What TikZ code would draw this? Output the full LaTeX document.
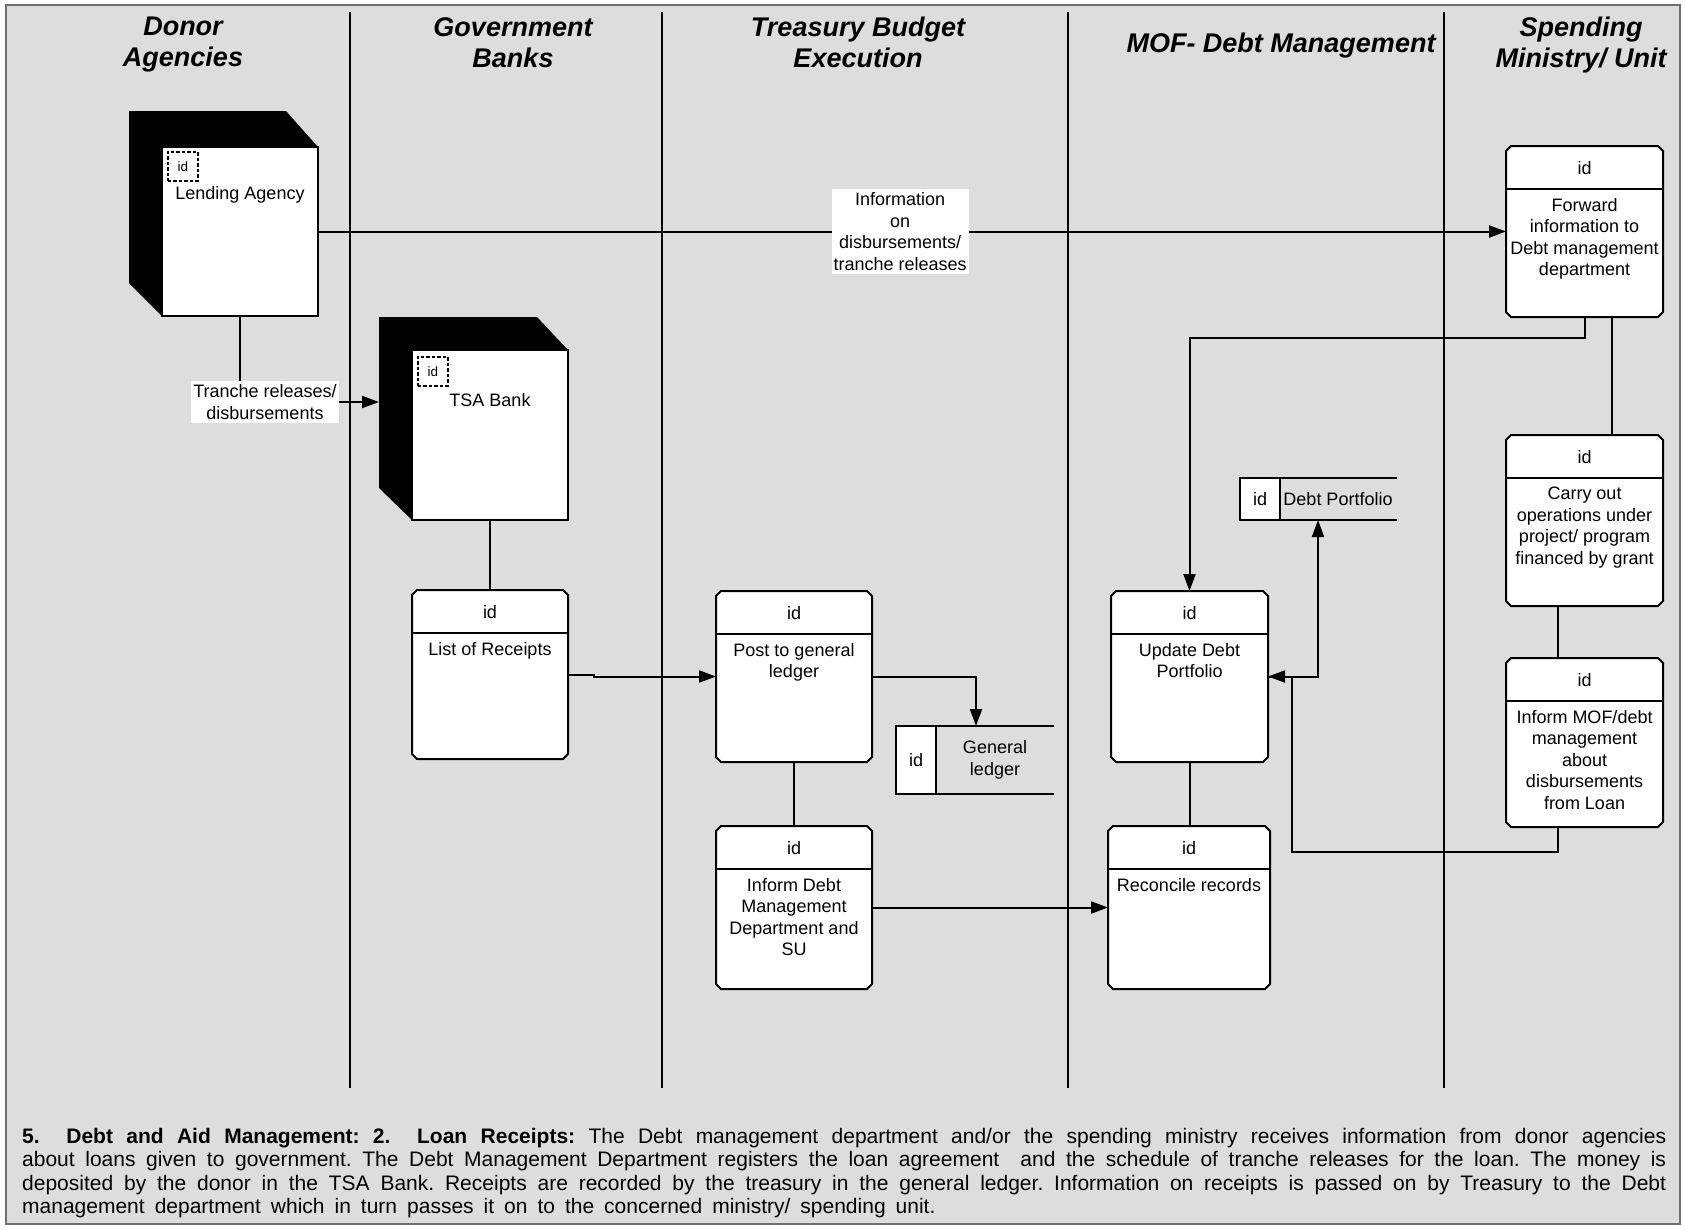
\documentclass[tikz,border=0pt]{standalone}
\usepackage{fontspec}
\setmainfont{Liberation Sans}
\usetikzlibrary{arrows.meta}
\definecolor{lanegray}{RGB}{221,221,221}
\definecolor{framegray}{RGB}{110,110,110}

% process box with chamfered corners and an id header
% #1 name, #2 left, #3 top, #4 width, #5 height, #6 text
\newcommand\procbox[6]{%
  \pgfmathsetmacro\pbR{#2+#4}%
  \pgfmathsetmacro\pbB{#3+#5}%
  \pgfmathsetmacro\pbC{#2+#4/2}%
  \pgfmathsetmacro\pbH{#3+43}%
  \node[anchorbox, minimum width=#4pt, minimum height=#5pt] (#1) at (#2,#3) {};
  \draw[boxline, fill=white] (#2+5,#3) -- (\pbR-5,#3) -- (\pbR,#3+5) -- (\pbR,\pbB-5)
     -- (\pbR-5,\pbB) -- (#2+5,\pbB) -- (#2,\pbB-5) -- (#2,#3+5) -- cycle;
  \draw[boxline] (#2,\pbH) -- (\pbR,\pbH);
  \node[txt] at (\pbC,#3+22) {id};
  \node[txt, anchor=north] at (\pbC,\pbH+9) {#6};
}

\begin{document}
\begin{tikzpicture}[x=1pt,y=-1pt,
  lane/.style={line width=2pt},
  conn/.style={line width=2pt},
  arr/.style={conn,-{Triangle[length=17pt,width=12pt]}},
  boxline/.style={line width=2pt, line join=miter},
  txt/.style={font=\fontsize{18}{21.5}\selectfont, align=center, inner sep=0pt},
  small/.style={font=\fontsize{13.5}{15}\selectfont, inner sep=0pt},
  hdr/.style={font=\fontsize{27}{31}\selectfont\bfseries\itshape, align=center, inner sep=0pt},
  flowlbl/.style={txt, fill=white, inner xsep=2pt, inner ysep=3.5pt},
  anchorbox/.style={draw=none, inner sep=0pt, outer sep=0pt, anchor=north west},
  idbox/.style={draw, line width=1.6pt, dash pattern=on 3.5pt off 2pt, small,
     minimum width=30pt, minimum height=29pt, anchor=north west},
]

\useasboundingbox (0,0) rectangle (1685,1229);
\fill[white] (0,0) rectangle (1685,1229);
\draw[fill=lanegray, draw=framegray, line width=1.5pt] (6,5) rectangle (1680,1224);

% swimlane dividers
\foreach \x in {350,662,1068,1444} \draw[lane] (\x,12) -- (\x,1088);

% lane headings
\node[hdr, anchor=north] (hdonor) at (183,17) {Donor\\Agencies};
\node[hdr, anchor=north] (hbank) at (513,17) {Government\\Banks};
\node[hdr, anchor=north] (htreas) at (858,17) {Treasury Budget\\Execution};
\node[hdr, anchor=north] (hmof) at (1281,33) {MOF- Debt Management};
\node[hdr, anchor=north] (hspend) at (1581,17) {Spending\\Ministry/ Unit};

% external entities (3D boxes)
\fill (129,111) -- (286,111) -- (318,147) -- (318,316) -- (162,316) -- (129,283) -- cycle;
\node[anchorbox, draw, fill=white, line width=2pt, minimum width=156pt, minimum height=169pt] (lend) at (162,147) {};
\node[idbox] (lendid) at (167,151) {id};
\node[txt] (lendtxt) at (240,195) {Lending Agency};

\fill (379,317) -- (537,317) -- (568,350) -- (568,520) -- (412,520) -- (379,488) -- cycle;
\node[anchorbox, draw, fill=white, line width=2pt, minimum width=156pt, minimum height=170pt] (tsa) at (412,350) {};
\node[idbox] (tsaid) at (417,356) {id};
\node[txt] (tsatxt) at (490,400) {TSA Bank};

% processes
\procbox{list}{412}{590}{156}{169}{List of Receipts}
\procbox{post}{716}{591}{156}{171}{Post to general\\ledger}
\procbox{infd}{716}{826}{156}{163}{Inform Debt\\Management\\Department and\\SU}
\procbox{upd}{1111}{591}{157}{171}{Update Debt\\Portfolio}
\procbox{rec}{1108}{826}{162}{163}{Reconcile records}
\procbox{fwd}{1506}{146}{157}{171}{Forward\\information to\\Debt management\\department}
\procbox{carry}{1506}{435}{157}{171}{Carry out\\operations under\\project/ program\\financed by grant}
\procbox{mof}{1506}{658}{157}{169}{Inform MOF/debt\\management\\about\\disbursements\\from Loan}

% data stores
\node[anchorbox, minimum width=158pt, minimum height=68pt] (gl) at (896,726) {};
\fill[white] (896,726) rectangle (936,794);
\draw[boxline] (1054,726) -- (896,726) -- (896,794) -- (1054,794);
\draw[boxline] (936,726) -- (936,794);
\node[txt] (glid) at (916,760) {id};
\node[txt] (gltxt) at (995,760) {General\\ledger};

\node[anchorbox, minimum width=157pt, minimum height=42pt] (dp) at (1240,478) {};
\fill[white] (1240,478) rectangle (1280,520);
\draw[boxline] (1397,478) -- (1240,478) -- (1240,520) -- (1397,520);
\draw[boxline] (1280,478) -- (1280,520);
\node[txt] (dpid) at (1260,499) {id};
\node[txt] (dptxt) at (1338,499) {Debt Portfolio};

% flows
\draw[arr] (lend.east) -- (fwd.west)
  node[flowlbl, pos=0.49] (infolbl) {Information\\on\\disbursements/\\tranche releases};
\draw[arr] (lend.south) |- ([xshift=-33pt,yshift=33pt]tsa.west)
  node[flowlbl, pos=0.5, xshift=25pt] (tranlbl) {Tranche releases/\\disbursements};
\draw[conn] (tsa.south) -- (list.north);
\draw[arr] (list.east) -- ++(26,0) |- (post.west);
\draw[arr] (post.east) -| ([xshift=80pt]gl.north west);
\draw[conn] (post.south) -- (infd.north);
\draw[arr] (infd.east) -- (rec.west);
\draw[conn] (upd.south) -- (upd.south |- rec.north);
\draw[arr] (upd.east) -| ([xshift=78pt]dp.south west);
\draw[arr] (fwd.south) -- ++(0,21) -| (upd.north);
\draw[conn] ([xshift=27pt]fwd.south) -- ([xshift=27pt]carry.north);
\draw[conn] ([xshift=-27pt]carry.south) -- ([xshift=-27pt]mof.north);
\draw[arr] ([xshift=-27pt]mof.south) -- ++(0,25) -| ([xshift=24pt]upd.east) -- (upd.east);

% caption
\node[anchor=north west, inner sep=0pt, text width=1644pt, align=justify,
  font={\fontsize{21}{23.5}\selectfont}] (cap) at (22,1128)
  {\frenchspacing\spaceskip=10pt plus 4pt minus 2.5pt\relax
   \textbf{5.~~Debt and Aid Management: 2.~~Loan Receipts:} The Debt management department and/or the spending ministry receives information from donor agencies\linebreak
   about loans given to government. The Debt Management Department registers the loan agreement~ and the schedule of tranche releases for the loan. The money is\linebreak
   deposited by the donor in the TSA Bank. Receipts are recorded by the treasury in the general ledger. Information on receipts is passed on by Treasury to the Debt\linebreak
   management department which in turn passes it on to the concerned ministry/ spending unit.};
\end{tikzpicture}
\end{document}
